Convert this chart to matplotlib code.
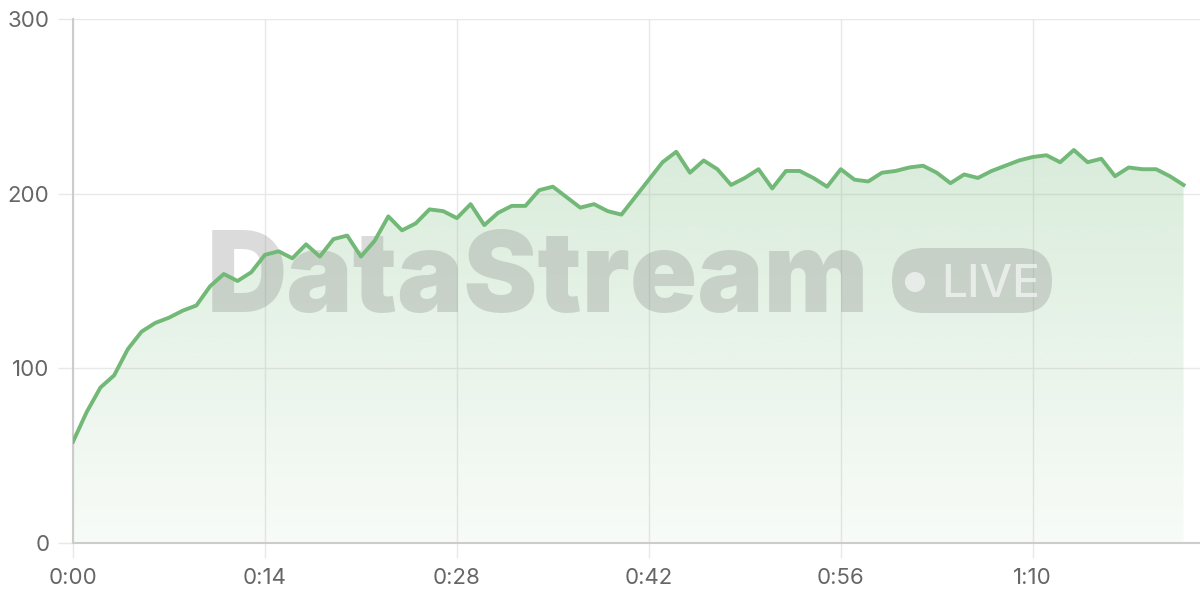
import numpy as np
import matplotlib.pyplot as plt
from matplotlib.colors import to_rgb
from matplotlib.patches import FancyBboxPatch, Circle
from matplotlib.transforms import IdentityTransform
from matplotlib.ticker import FuncFormatter

plt.rcParams['font.family'] = ['Inter', 'DejaVu Sans']

# one sample per second
seconds = np.arange(82)
viewers = [58, 75, 89, 96, 111, 121, 126, 129, 133, 136,
           147, 154, 150, 155, 165, 167, 163, 171, 164, 174,
           176, 164, 173, 187, 179, 183, 191, 190, 186, 194,
           182, 189, 193, 193, 202, 204, 198, 192, 194, 190,
           188, 198, 208, 218, 224, 212, 219, 214, 205, 209,
           214, 203, 213, 213, 209, 204, 214, 208, 207, 212,
           213, 215, 216, 212, 206, 211, 209, 213, 216, 219,
           221, 222, 218, 225, 218, 220, 210, 215, 214, 214,
           210, 205]
xticks = [0, 14, 28, 42, 56, 70]
yticks = [0, 100, 200, 300]

line_color = '#72b877'
grid_color = '#e8e8e8'
label_color = '#666666'

fig = plt.figure(figsize=(12, 6), dpi=100)
ax = fig.add_axes([73 / 1200, 57 / 600, 1127 / 1200, 524 / 600])

# gradient area under the line
grad = np.zeros((256, 1, 4))
grad[..., :3] = to_rgb(line_color)
grad[:, 0, 3] = np.linspace(0.05, 0.27, 256)
area = ax.fill_between(seconds, viewers, 0, color='none', lw=0)
img = ax.imshow(grad, extent=[0, seconds[-1], 0, max(viewers)], origin='lower',
                aspect='auto', zorder=1, interpolation='bilinear')
img.set_clip_path(area.get_paths()[0], transform=ax.transData)

ax.plot(seconds, viewers, color=line_color, lw=2.8, zorder=3)

# watermark
px = IdentityTransform()
ax.text(207, 288, 'DataStream', transform=px, fontsize=80, fontweight='black',
        color='#808080', alpha=0.28, ha='left', va='baseline', zorder=2)
pill = FancyBboxPatch((892, 287), 160, 65, boxstyle='round,pad=0,rounding_size=32',
                      transform=px, facecolor='#808080', alpha=0.28, lw=0, zorder=2)
ax.add_artist(pill)
ax.add_artist(Circle((915, 318), 10, transform=px, facecolor='white', alpha=0.6, lw=0, zorder=2.1))
ax.text(941, 303, 'LIVE', transform=px, fontsize=33, fontweight='medium',
        color='white', alpha=0.6, ha='left', va='baseline', zorder=2.1)

ax.set_xlim(0, 82.2)
ax.set_ylim(0, 300)
ax.set_xticks(xticks)
ax.set_yticks(yticks)
ax.xaxis.set_major_formatter(FuncFormatter(lambda v, p: f"{int(v) // 60}:{int(v) % 60:02d}"))

ax.grid(color=grid_color, lw=1)
ax.set_axisbelow(True)
for s in ['top', 'right']:
    ax.spines[s].set_visible(False)
for s in ['left', 'bottom']:
    ax.spines[s].set_color('#cccccc')
    ax.spines[s].set_linewidth(1.5)
ax.tick_params(axis='both', length=11, width=1, color=grid_color,
               labelcolor=label_color, labelsize=16)
ax.tick_params(axis='y', pad=6)
ax.tick_params(axis='x', pad=7)

fig.savefig('out.png', dpi=100)
